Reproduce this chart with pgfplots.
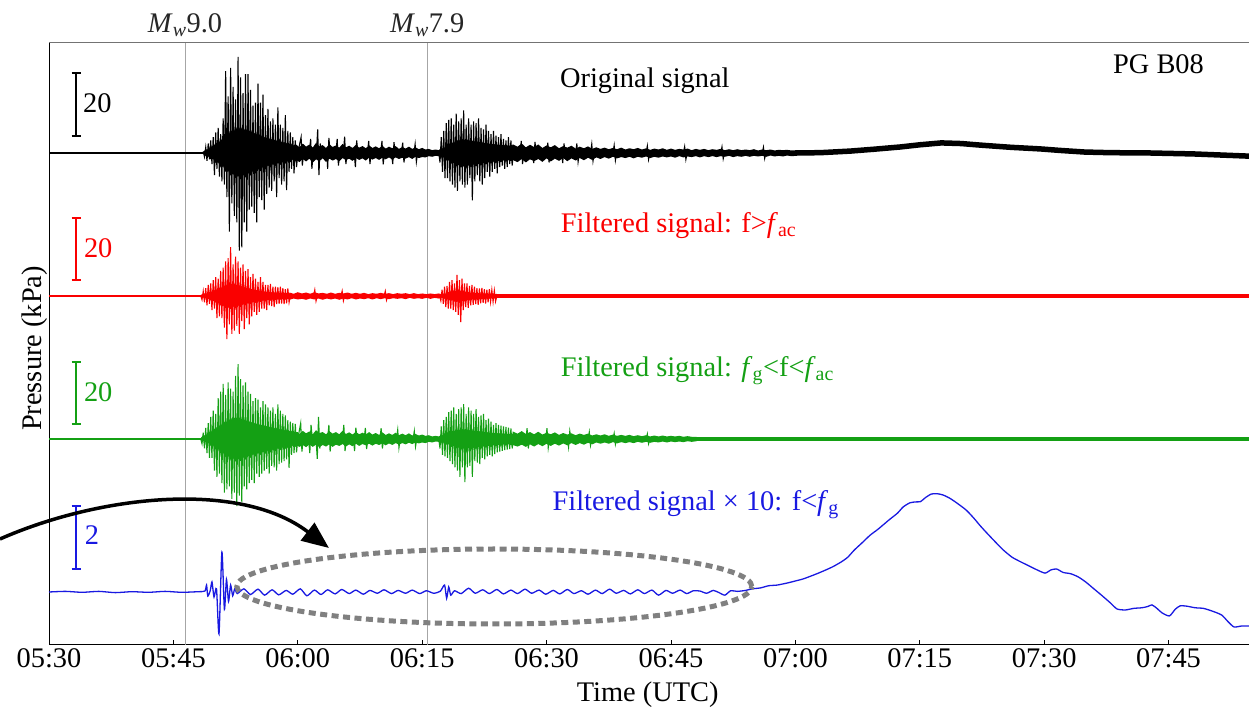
\documentclass[border=0pt]{standalone}
\usepackage{fontspec}
\setmainfont{Liberation Serif}
\usepackage{pgfplots}
\usepackage{pgfplotstable}
\pgfplotsset{compat=1.18}
\usetikzlibrary{arrows.meta}
\definecolor{cgreen}{RGB}{20,160,20}
\definecolor{cblue}{RGB}{25,25,225}
\definecolor{cred}{RGB}{250,0,0}
\newcommand{\fs}{\fontsize{28.5}{34}\selectfont}
\pgfplotsset{spk/.style={line width=1.1bp}}

% ---------- Original signal (kPa about the trace baseline; t = minutes after 05:30 UTC)
\pgfplotstableread[row sep=\\]{t p\\
18.6 0.5\\ 18.75 -1.2\\ 18.9 1.8\\ 19.05 -2.5\\ 19.2 3\\ 19.35 -2\\ 19.5 4\\ 19.65 -3.5\\ 19.8 5\\ 19.95 -7\\
20.1 6.5\\ 20.25 -5\\ 20.4 8\\ 20.55 -7.5\\ 20.7 6\\ 20.85 -9\\ 21.0 11\\ 21.15 -10\\ 21.3 26\\ 21.45 -14\\
21.6 18\\ 21.75 -25\\ 21.9 27\\ 22.05 -16\\ 22.2 21\\ 22.35 -20\\ 22.5 17\\ 22.65 -22\\ 22.8 30.5\\ 22.95 -31\\
23.1 24\\ 23.25 -30\\ 23.4 19\\ 23.55 -22\\ 23.7 25\\ 23.85 -25\\ 24.0 25\\ 24.15 -18\\ 24.3 20\\ 24.45 -17\\
24.6 15\\ 24.75 -19\\ 24.9 16\\ 25.05 -22\\ 25.2 22\\ 25.35 -14\\ 25.5 16\\ 25.65 -15\\ 25.8 18.5\\ 25.95 -18\\
26.1 12\\ 26.25 -13\\ 26.4 14\\ 26.55 -11\\ 26.7 10\\ 26.85 -12\\ 27.0 11\\ 27.15 -9\\ 27.3 9\\ 27.45 -14\\
27.6 14.5\\ 27.75 -8\\ 27.9 9\\ 28.05 -10\\ 28.2 8\\ 28.35 -9\\ 28.5 12\\ 28.65 -11.8\\ 28.8 7\\ 28.95 -6\\
29.1 6.5\\ 29.25 -5\\ 29.4 5\\ 29.55 -6.5\\ 29.7 4\\ 29.85 -4.5\\ 30.0 0\\
}\blackA
\pgfplotstableread[row sep=\\]{t p\\
18.6 0.3\\ 18.9 1.2\\ 19.2 1.0\\ 19.5 2.2\\ 19.8 1.8\\ 20.1 3.4\\ 20.4 2.8\\ 20.7 4.5\\ 21.0 3.8\\ 21.3 6.5\\ 21.6 5.2\\ 21.9 7.5\\
22.2 6.2\\ 22.5 8.2\\ 22.8 7.0\\ 23.1 8.6\\ 23.4 6.8\\ 23.7 8.0\\ 24.0 6.5\\ 24.3 7.4\\ 24.6 5.8\\ 24.9 6.6\\ 25.2 5.2\\ 25.5 6.0\\
25.8 4.6\\ 26.1 5.3\\ 26.4 4.2\\ 26.7 4.8\\ 27.0 3.8\\ 27.3 4.4\\ 27.6 3.4\\ 27.9 4.0\\ 28.2 3.0\\ 28.5 3.6\\ 28.8 2.6\\ 29.1 3.1\\
29.4 2.3\\ 29.7 2.8\\ 30.0 2.2\\
30.0 -2.2\\ 29.7 -2.6\\ 29.4 -2.1\\ 29.1 -3.0\\ 28.8 -2.4\\ 28.5 -3.4\\ 28.2 -2.8\\ 27.9 -3.8\\ 27.6 -3.1\\ 27.3 -4.2\\ 27.0 -3.5\\
26.7 -4.6\\ 26.4 -3.9\\ 26.1 -5.1\\ 25.8 -4.4\\ 25.5 -5.8\\ 25.2 -5.0\\ 24.9 -6.5\\ 24.6 -5.6\\ 24.3 -7.2\\ 24.0 -6.3\\ 23.7 -7.8\\
23.4 -6.9\\ 23.1 -8.4\\ 22.8 -7.2\\ 22.5 -8.0\\ 22.2 -6.6\\ 21.9 -7.2\\ 21.6 -5.6\\ 21.3 -6.0\\ 21.0 -4.2\\ 20.7 -4.4\\ 20.4 -3.0\\
20.1 -3.2\\ 19.8 -1.9\\ 19.5 -2.0\\ 19.2 -1.1\\ 18.9 -1.0\\ 18.6 -0.3\\
}\blackcoreA
\pgfplotstableread[row sep=\\]{t p\\
29.8 2.6\\ 30.2 1.8\\ 30.6 3.0\\ 31.0 2.0\\ 31.4 2.7\\ 31.8 1.7\\ 32.2 3.2\\ 32.6 2.1\\ 33.0 2.5\\ 33.4 1.6\\ 33.8 2.8\\ 34.2 1.9\\
34.6 2.4\\ 35.0 1.7\\ 35.4 2.9\\ 35.8 1.8\\ 36.2 2.3\\ 36.6 1.6\\ 37.0 2.6\\ 37.4 1.7\\ 37.8 2.2\\ 38.2 1.5\\ 38.6 2.4\\ 39.0 1.6\\
39.4 2.1\\ 39.8 1.5\\ 40.2 2.3\\ 40.6 1.4\\ 41.0 2.0\\ 41.4 1.5\\ 41.8 2.2\\ 42.2 1.3\\ 42.6 1.9\\ 43.0 1.4\\ 43.4 2.0\\ 43.8 1.3\\
44.2 1.8\\ 44.6 1.2\\ 45.0 1.6\\ 45.4 1.1\\ 45.8 1.3\\ 46.2 0.9\\ 46.6 1.1\\ 47.0 0.9\\ 47.2 1.0\\
47.2 -0.9\\ 47.0 -1.0\\ 46.6 -0.9\\ 46.2 -1.2\\ 45.8 -1.0\\ 45.4 -1.4\\ 45.0 -1.3\\ 44.6 -1.6\\ 44.2 -1.2\\ 43.8 -1.9\\ 43.4 -1.3\\
43.0 -1.8\\ 42.6 -1.5\\ 42.2 -1.9\\ 41.8 -1.4\\ 41.4 -2.1\\ 41.0 -1.4\\ 40.6 -2.0\\ 40.2 -1.5\\ 39.8 -2.2\\ 39.4 -1.6\\ 39.0 -2.1\\
38.6 -1.5\\ 38.2 -2.4\\ 37.8 -1.7\\ 37.4 -2.2\\ 37.0 -1.6\\ 36.6 -2.5\\ 36.2 -1.8\\ 35.8 -2.3\\ 35.4 -1.6\\ 35.0 -2.7\\ 34.6 -1.9\\
34.2 -2.4\\ 33.8 -1.8\\ 33.4 -2.8\\ 33.0 -1.7\\ 32.6 -2.6\\ 32.2 -2.0\\ 31.8 -3.1\\ 31.4 -1.8\\ 31.0 -2.7\\ 30.6 -1.9\\ 30.2 -2.9\\ 29.8 -2.2\\
}\blackmidA
\pgfplotstableread[row sep=\\]{t p\\
30.0 0\\ 30.4 5\\ 30.55 -4\\ 30.7 0\\ 31.4 0\\ 31.55 4.5\\ 31.7 -5\\ 31.85 0\\ 32.25 0\\ 32.4 7.5\\ 32.55 -7\\ 32.7 3\\ 32.85 0\\
33.5 0\\ 33.6 -5\\ 33.75 4.8\\ 33.9 0\\ 34.6 0\\ 34.75 4.5\\ 34.9 -4\\ 35.05 0\\ 35.5 0\\ 35.65 5.2\\ 35.8 -3.5\\ 35.95 0\\
36.8 0\\ 36.95 -4.5\\ 37.1 4\\ 37.25 0\\ 38.4 0\\ 38.55 3.8\\ 38.7 -3.5\\ 38.85 0\\ 40.0 0\\ 40.15 3.8\\ 40.3 -3.6\\ 40.45 0\\
41.3 0\\ 41.45 -3.5\\ 41.6 3.4\\ 41.75 0\\ 42.5 0\\ 42.65 3.3\\ 42.8 -3\\ 42.95 0\\ 44.0 0\\ 44.15 2.8\\ 44.3 -2.8\\ 44.45 0\\ 47.0 0\\
}\blackSa
\pgfplotstableread[row sep=\\]{t p\\
47.0 0\\ 47.15 -3\\ 47.3 5\\ 47.45 -6\\ 47.6 7\\ 47.75 -8\\ 47.9 9.5\\ 48.05 -8\\ 48.2 10.5\\ 48.35 -9\\ 48.5 11\\
48.65 -10\\ 48.8 9\\ 48.95 -11\\ 49.1 12.5\\ 49.25 -12\\ 49.4 10\\ 49.55 -9\\ 49.7 11\\ 49.85 -10\\ 50.0 13.5\\
50.15 -11\\ 50.3 9\\ 50.45 -10\\ 50.6 11\\ 50.75 -8\\ 50.9 9\\ 51.05 -15\\ 51.2 10\\ 51.35 -9\\ 51.5 9.5\\
51.65 -7\\ 51.8 11\\ 51.95 -9\\ 52.1 8\\ 52.25 -10\\ 52.4 7.5\\ 52.55 -8\\ 52.7 9\\ 52.85 -6\\ 53.0 7\\
53.15 -7.5\\ 53.3 6\\ 53.45 -6\\ 53.6 7\\ 53.75 -5\\ 53.9 5.5\\ 54.05 -6.5\\ 54.2 5\\ 54.35 -4.5\\ 54.5 6\\
54.65 -4\\ 54.8 4.5\\ 54.95 -5\\ 55.1 4\\ 55.25 -4.5\\ 55.4 5\\ 55.55 -3.5\\ 55.7 4\\ 55.85 -4\\ 56.0 0\\
}\blackB
\pgfplotstableread[row sep=\\]{t p\\
47.0 0.9\\ 47.3 1.6\\ 47.6 1.4\\ 47.9 2.6\\ 48.2 2.2\\ 48.5 3.6\\ 48.8 3.0\\ 49.1 4.4\\ 49.4 3.7\\ 49.7 4.8\\ 50.0 4.0\\
50.3 4.6\\ 50.6 3.8\\ 50.9 4.3\\ 51.2 3.5\\ 51.5 4.1\\ 51.8 3.3\\ 52.1 3.8\\ 52.4 3.0\\ 52.7 3.5\\ 53.0 2.8\\ 53.3 3.2\\
53.6 2.6\\ 53.9 3.0\\ 54.2 2.4\\ 54.5 2.9\\ 54.8 2.3\\ 55.1 2.7\\ 55.4 2.2\\ 55.7 2.6\\ 56.0 2.4\\
56.0 -2.2\\ 55.7 -2.6\\ 55.4 -2.1\\ 55.1 -2.8\\ 54.8 -2.3\\ 54.5 -3.0\\ 54.2 -2.5\\ 53.9 -3.2\\ 53.6 -2.7\\ 53.3 -3.4\\ 53.0 -2.9\\
52.7 -3.7\\ 52.4 -3.1\\ 52.1 -4.0\\ 51.8 -3.4\\ 51.5 -4.3\\ 51.2 -3.6\\ 50.9 -4.6\\ 50.6 -3.9\\ 50.3 -4.8\\ 50.0 -4.1\\ 49.7 -4.6\\
49.4 -3.8\\ 49.1 -4.2\\ 48.8 -3.1\\ 48.5 -3.4\\ 48.2 -2.2\\ 47.9 -2.4\\ 47.6 -1.4\\ 47.3 -1.5\\ 47.0 -0.9\\
}\blackcoreB
\pgfplotstableread[row sep=\\]{t p\\
55.9 2.8\\ 56.5 2.0\\ 57.0 3.0\\ 57.5 1.8\\ 58.0 2.6\\ 58.5 1.9\\ 59.0 2.7\\ 59.5 1.6\\ 60.0 2.4\\ 60.5 1.8\\ 61.0 2.5\\ 61.5 1.5\\
62.0 2.2\\ 62.5 1.7\\ 63.0 2.3\\ 63.5 1.4\\ 64.0 2.0\\ 64.5 1.5\\ 65.0 2.1\\ 65.5 1.3\\ 66.0 1.8\\ 66.5 1.3\\ 67.0 1.7\\ 67.5 1.2\\
68.0 1.6\\ 68.5 1.2\\ 69.0 1.7\\ 69.5 1.1\\ 70.0 1.5\\ 70.5 1.2\\ 71.0 1.6\\ 71.5 1.1\\ 72.0 1.5\\ 72.5 1.0\\ 73.0 1.4\\ 73.5 1.1\\
74.0 1.5\\ 74.5 1.0\\ 75.0 1.4\\ 75.5 1.0\\ 76.0 1.3\\ 76.5 1.1\\ 77.0 1.4\\ 77.5 0.9\\ 78.0 1.3\\ 78.5 1.0\\ 79.0 1.3\\ 79.5 0.9\\
80.0 1.2\\ 80.5 1.0\\ 81.0 1.3\\ 81.5 0.9\\ 82.0 1.2\\ 82.5 0.9\\ 83.0 1.2\\ 83.5 0.9\\ 84.0 1.1\\ 84.5 0.9\\ 85.0 1.2\\ 85.5 0.8\\
86.0 1.1\\ 86.5 0.9\\ 87.0 1.1\\ 87.5 0.8\\ 88.0 1.0\\ 88.5 0.9\\ 89.0 1.0\\ 89.5 0.8\\ 90.2 0.9\\
90.2 -0.9\\ 89.5 -1.0\\ 89.0 -0.8\\ 88.5 -1.1\\ 88.0 -0.9\\ 87.5 -1.1\\ 87.0 -0.8\\ 86.5 -1.2\\ 86.0 -0.9\\ 85.5 -1.1\\ 85.0 -0.9\\
84.5 -1.2\\ 84.0 -0.9\\ 83.5 -1.2\\ 83.0 -1.0\\ 82.5 -1.3\\ 82.0 -0.9\\ 81.5 -1.2\\ 81.0 -1.0\\ 80.5 -1.3\\ 80.0 -1.0\\ 79.5 -1.3\\
79.0 -1.0\\ 78.5 -1.4\\ 78.0 -1.0\\ 77.5 -1.3\\ 77.0 -1.1\\ 76.5 -1.4\\ 76.0 -1.0\\ 75.5 -1.5\\ 75.0 -1.1\\ 74.5 -1.4\\ 74.0 -1.1\\
73.5 -1.5\\ 73.0 -1.2\\ 72.5 -1.6\\ 72.0 -1.1\\ 71.5 -1.5\\ 71.0 -1.2\\ 70.5 -1.7\\ 70.0 -1.2\\ 69.5 -1.6\\ 69.0 -1.3\\ 68.5 -1.7\\
68.0 -1.2\\ 67.5 -1.8\\ 67.0 -1.3\\ 66.5 -1.9\\ 66.0 -1.4\\ 65.5 -2.2\\ 65.0 -1.5\\ 64.5 -2.3\\ 64.0 -1.6\\ 63.5 -2.4\\ 63.0 -1.7\\
62.5 -2.6\\ 62.0 -1.6\\ 61.5 -2.5\\ 61.0 -1.8\\ 60.5 -2.7\\ 60.0 -1.7\\ 59.5 -2.8\\ 59.0 -1.9\\ 58.5 -2.6\\ 58.0 -2.0\\ 57.5 -3.0\\
57.0 -1.9\\ 56.5 -2.9\\ 55.9 -2.2\\
}\blackmidB
\pgfplotstableread[row sep=\\]{t p\\
56.0 0\\ 56.8 0\\ 56.95 3.8\\ 57.1 -3.5\\ 57.25 0\\ 58.3 0\\ 58.45 -3.2\\ 58.6 3.5\\ 58.75 0\\ 60.0 0\\ 60.15 3.3\\ 60.3 -3\\ 60.45 0\\
61.8 0\\ 61.95 -3.2\\ 62.1 3\\ 62.25 0\\ 63.5 0\\ 63.65 3\\ 63.8 -2.8\\ 63.95 0\\ 65.3 0\\ 65.45 2.8\\ 65.6 -2.5\\ 65.75 0\\
68.0 0\\ 68.15 2.4\\ 68.3 -2.3\\ 68.45 0\\ 72.0 0\\ 72.15 2.2\\ 72.3 -2\\ 72.45 0\\ 76.5 0\\ 76.65 2\\ 76.8 -2\\ 76.95 0\\
81.0 0\\ 81.15 1.9\\ 81.3 -1.8\\ 81.45 0\\ 86.0 0\\ 86.15 1.8\\ 86.3 -1.7\\ 86.45 0\\ 90.0 0\\
}\blackSb
\pgfplotstableread[row sep=\\]{t p\\
90.0 0\\ 93.0 0.1\\ 96.6 0.6\\ 99.5 1.2\\ 102.6 1.9\\ 105.0 2.6\\ 107.6 3.2\\ 110.0 3.0\\ 112.3 2.5\\
116.0 1.8\\ 119.5 1.3\\ 122.0 0.8\\ 124.9 0.3\\ 128.0 0.1\\ 132.8 0\\ 138.0 -0.3\\ 144.7 -1.0\\
}\blacktail

% ---------- Filtered f > f_ac
\pgfplotstableread[row sep=\\]{t p\\
18.3 0\\ 18.45 -1.2\\ 18.6 1.5\\ 18.75 -2\\ 18.9 2.5\\ 19.05 -3\\ 19.2 3.5\\ 19.35 -2.5\\ 19.5 4\\ 19.65 -4.5\\
19.8 5\\ 19.95 -4\\ 20.1 6\\ 20.25 -7\\ 20.4 5.5\\ 20.55 -6.5\\ 20.7 8\\ 20.85 -7\\ 21.0 9\\ 21.15 -10\\
21.3 11\\ 21.45 -13.7\\ 21.6 12\\ 21.75 -9\\ 21.9 15.5\\ 22.05 -12\\ 22.2 10\\ 22.35 -11\\ 22.5 12.5\\ 22.65 -9.5\\
22.8 11\\ 22.95 -12\\ 23.1 9\\ 23.25 -8\\ 23.4 10\\ 23.55 -10.5\\ 23.7 8\\ 23.85 -7\\ 24.0 8.5\\ 24.15 -9\\
24.3 6\\ 24.45 -6.5\\ 24.6 7\\ 24.75 -5\\ 24.9 5.5\\ 25.05 -6\\ 25.2 4.5\\ 25.35 -5\\ 25.5 6\\ 25.65 -4\\
25.8 4.5\\ 25.95 -4\\ 26.1 3.5\\ 26.25 -4.5\\ 26.4 3.5\\ 26.55 -3\\ 26.7 3.8\\ 26.85 -3.2\\ 27.0 3\\ 27.15 -3.5\\
27.3 3\\ 27.45 -2.6\\ 27.6 2.8\\ 27.75 -2.5\\ 27.9 3\\ 28.05 -2.4\\ 28.2 2.5\\ 28.35 -2.6\\ 28.5 2.2\\ 28.65 -2.3\\
28.8 2.4\\ 28.95 -2\\ 29.1 0\\
}\redA
\pgfplotstableread[row sep=\\]{t p\\
18.3 0.3\\ 18.6 0.8\\ 18.9 0.6\\ 19.2 1.3\\ 19.5 1.1\\ 19.8 2.0\\ 20.1 1.7\\ 20.4 2.8\\ 20.7 2.3\\ 21.0 3.6\\ 21.3 3.0\\ 21.6 4.4\\
21.9 3.6\\ 22.2 4.2\\ 22.5 3.4\\ 22.8 3.8\\ 23.1 3.0\\ 23.4 3.3\\ 23.7 2.5\\ 24.0 2.8\\ 24.3 2.1\\ 24.6 2.4\\ 24.9 1.8\\ 25.2 2.0\\
25.5 1.5\\ 25.8 1.7\\ 26.1 1.3\\ 26.4 1.5\\ 26.7 1.1\\ 27.0 1.3\\ 27.3 1.0\\ 27.6 1.2\\ 27.9 0.9\\ 28.2 1.1\\ 28.5 0.8\\ 28.8 1.0\\ 29.1 0.8\\
29.1 -0.8\\ 28.8 -0.9\\ 28.5 -1.1\\ 28.2 -0.9\\ 27.9 -1.2\\ 27.6 -1.0\\ 27.3 -1.3\\ 27.0 -1.1\\ 26.7 -1.5\\ 26.4 -1.2\\ 26.1 -1.7\\
25.8 -1.4\\ 25.5 -1.9\\ 25.2 -1.6\\ 24.9 -2.2\\ 24.6 -1.9\\ 24.3 -2.6\\ 24.0 -2.2\\ 23.7 -3.0\\ 23.4 -2.6\\ 23.1 -3.5\\ 22.8 -3.0\\
22.5 -3.9\\ 22.2 -3.3\\ 21.9 -4.2\\ 21.6 -3.6\\ 21.3 -3.9\\ 21.0 -3.0\\ 20.7 -3.0\\ 20.4 -2.2\\ 20.1 -2.1\\ 19.8 -1.5\\ 19.5 -1.4\\
19.2 -0.9\\ 18.9 -0.7\\ 18.6 -0.5\\ 18.3 -0.3\\
}\redcoreA
\pgfplotstableread[row sep=\\]{t p\\
29.0 1.1\\ 29.5 0.7\\ 30.0 1.2\\ 30.5 0.8\\ 31.0 1.1\\ 31.5 0.7\\ 32.0 1.2\\ 32.5 0.8\\ 33.0 1.0\\ 33.5 0.7\\ 34.0 1.1\\ 34.5 0.7\\
35.0 1.0\\ 35.5 0.8\\ 36.0 1.1\\ 36.5 0.7\\ 37.0 1.0\\ 37.5 0.7\\ 38.0 1.0\\ 38.5 0.6\\ 39.0 0.9\\ 39.5 0.7\\ 40.0 1.0\\ 40.5 0.7\\
41.0 0.9\\ 41.5 0.6\\ 42.0 0.9\\ 42.5 0.7\\ 43.0 0.9\\ 43.5 0.6\\ 44.0 0.9\\ 44.5 0.6\\ 45.0 0.8\\ 45.5 0.6\\ 46.0 0.8\\ 46.5 0.6\\
47.0 0.8\\ 47.3 0.6\\
47.3 -0.6\\ 47.0 -0.8\\ 46.5 -0.6\\ 46.0 -0.9\\ 45.5 -0.6\\ 45.0 -0.9\\ 44.5 -0.7\\ 44.0 -0.9\\ 43.5 -0.6\\ 43.0 -1.0\\ 42.5 -0.7\\
42.0 -0.9\\ 41.5 -0.7\\ 41.0 -1.0\\ 40.5 -0.7\\ 40.0 -1.0\\ 39.5 -0.7\\ 39.0 -1.1\\ 38.5 -0.7\\ 38.0 -1.0\\ 37.5 -0.8\\ 37.0 -1.1\\
36.5 -0.7\\ 36.0 -1.1\\ 35.5 -0.8\\ 35.0 -1.2\\ 34.5 -0.8\\ 34.0 -1.1\\ 33.5 -0.8\\ 33.0 -1.2\\ 32.5 -0.8\\ 32.0 -1.1\\ 31.5 -0.8\\
31.0 -1.2\\ 30.5 -0.9\\ 30.0 -1.1\\ 29.5 -0.8\\ 29.0 -1.2\\
}\redmid
\pgfplotstableread[row sep=\\]{t p\\
29.1 0\\ 31.9 0\\ 32.05 1.9\\ 32.2 -1.6\\ 32.35 0\\ 35.2 0\\ 35.35 1.6\\ 35.5 -1.5\\ 35.65 0\\ 40.4 0\\ 40.55 1.5\\ 40.7 -1.3\\ 40.85 0\\ 47.1 0\\
}\redSa
\pgfplotstableread[row sep=\\]{t p\\
47.1 0\\ 47.25 -1.5\\ 47.4 2\\ 47.55 -2.5\\ 47.7 3\\ 47.85 -3.5\\ 48.0 3.2\\ 48.15 -4\\ 48.3 4.5\\ 48.45 -4\\ 48.6 5\\
48.75 -4.5\\ 48.9 4\\ 49.05 -5\\ 49.2 6.7\\ 49.35 -6\\ 49.5 5\\ 49.65 -8.3\\ 49.8 5.5\\ 49.95 -4.5\\ 50.1 4\\
50.25 -3.5\\ 50.4 4\\ 50.55 -3.8\\ 50.7 3.2\\ 50.85 -3\\ 51.0 3.5\\ 51.15 -2.8\\ 51.3 3\\ 51.45 -2.6\\ 51.6 2.5\\
51.75 -2.8\\ 51.9 2.4\\ 52.05 -2.3\\ 52.2 2.6\\ 52.35 -2.2\\ 52.5 2.2\\ 52.65 -2.4\\ 52.8 2\\ 52.95 -2\\ 53.1 2.2\\
53.25 -1.8\\ 53.4 1.9\\ 53.55 -1.8\\ 53.7 1.7\\ 53.85 -1.7\\ 54.0 0\\
}\redB
\pgfplotstableread[row sep=\\]{t p\\
47.2 0.4\\ 47.5 0.8\\ 47.8 0.7\\ 48.1 1.3\\ 48.4 1.1\\ 48.7 1.7\\ 49.0 1.5\\ 49.3 2.1\\ 49.6 1.7\\ 49.9 1.8\\ 50.2 1.3\\ 50.5 1.4\\
50.8 1.0\\ 51.1 1.2\\ 51.4 0.9\\ 51.7 1.0\\ 52.0 0.8\\ 52.3 0.9\\ 52.6 0.7\\ 52.9 0.8\\ 53.2 0.7\\ 53.5 0.8\\ 53.8 0.6\\ 54.0 0.7\\
54.0 -0.7\\ 53.8 -0.8\\ 53.5 -0.6\\ 53.2 -0.9\\ 52.9 -0.7\\ 52.6 -1.0\\ 52.3 -0.8\\ 52.0 -1.1\\ 51.7 -0.9\\ 51.4 -1.3\\ 51.1 -1.0\\
50.8 -1.5\\ 50.5 -1.2\\ 50.2 -1.8\\ 49.9 -1.5\\ 49.6 -2.2\\ 49.3 -1.8\\ 49.0 -1.9\\ 48.7 -1.4\\ 48.4 -1.5\\ 48.1 -1.0\\ 47.8 -0.9\\
47.5 -0.6\\ 47.2 -0.4\\
}\redcoreB

% ---------- Filtered f_g < f < f_ac
\pgfplotstableread[row sep=\\]{t p\\
18.3 0\\ 18.45 -1.5\\ 18.6 2\\ 18.75 -3\\ 18.9 3.5\\ 19.05 -4.5\\ 19.2 5\\ 19.35 -6\\ 19.5 7\\ 19.65 -6\\
19.8 9\\ 19.95 -10\\ 20.1 8\\ 20.25 -12\\ 20.4 13\\ 20.55 -11\\ 20.7 15\\ 20.85 -14\\ 21.0 17.5\\ 21.15 -17\\
21.3 14\\ 21.45 -16\\ 21.6 18\\ 21.75 -15\\ 21.9 16\\ 22.05 -19\\ 22.2 15\\ 22.35 -17\\ 22.5 20\\ 22.65 -21.3\\
22.8 23.8\\ 22.95 -18\\ 23.1 19\\ 23.25 -20\\ 23.4 17\\ 23.55 -15\\ 23.7 18\\ 23.85 -16\\ 24.0 15\\ 24.15 -14\\
24.3 14.3\\ 24.45 -13\\ 24.6 12\\ 24.75 -14\\ 24.9 13\\ 25.05 -11\\ 25.2 12.5\\ 25.35 -12\\ 25.5 10\\ 25.65 -11\\
25.8 12\\ 25.95 -10\\ 26.1 11\\ 26.25 -9.5\\ 26.4 10\\ 26.55 -11\\ 26.7 9\\ 26.85 -8.5\\ 27.0 10\\ 27.15 -9\\
27.3 8\\ 27.45 -10\\ 27.6 11\\ 27.75 -8\\ 27.9 9\\ 28.05 -7.5\\ 28.2 8\\ 28.35 -7\\ 28.5 7.5\\ 28.65 -6.5\\
28.8 6\\ 28.95 -9.2\\ 29.1 5.5\\ 29.25 -5\\ 29.4 5\\ 29.55 -4.5\\ 29.7 4.8\\ 29.85 -4.2\\ 30.0 0\\
}\greenA
\pgfplotstableread[row sep=\\]{t p\\
18.3 0.3\\ 18.6 1.2\\ 18.9 1.0\\ 19.2 2.4\\ 19.5 2.0\\ 19.8 3.5\\ 20.1 3.0\\ 20.4 4.6\\ 20.7 4.0\\ 21.0 5.8\\ 21.3 5.0\\ 21.6 6.6\\
21.9 5.8\\ 22.2 7.2\\ 22.5 6.3\\ 22.8 7.4\\ 23.1 6.2\\ 23.4 6.8\\ 23.7 5.6\\ 24.0 6.2\\ 24.3 5.1\\ 24.6 5.7\\ 24.9 4.6\\ 25.2 5.2\\
25.5 4.2\\ 25.8 4.8\\ 26.1 3.8\\ 26.4 4.4\\ 26.7 3.5\\ 27.0 4.0\\ 27.3 3.2\\ 27.6 3.6\\ 27.9 2.9\\ 28.2 3.3\\ 28.5 2.6\\ 28.8 3.0\\
29.1 2.3\\ 29.4 2.7\\ 29.7 2.1\\ 30.0 2.2\\
30.0 -2.0\\ 29.7 -2.5\\ 29.4 -2.1\\ 29.1 -2.8\\ 28.8 -2.3\\ 28.5 -3.1\\ 28.2 -2.6\\ 27.9 -3.5\\ 27.6 -2.9\\ 27.3 -3.9\\ 27.0 -3.3\\
26.7 -4.3\\ 26.4 -3.6\\ 26.1 -4.7\\ 25.8 -4.0\\ 25.5 -5.1\\ 25.2 -4.4\\ 24.9 -5.6\\ 24.6 -4.8\\ 24.3 -6.0\\ 24.0 -5.3\\ 23.7 -6.6\\
23.4 -5.8\\ 23.1 -7.0\\ 22.8 -6.3\\ 22.5 -7.2\\ 22.2 -6.1\\ 21.9 -6.6\\ 21.6 -5.4\\ 21.3 -5.8\\ 21.0 -4.4\\ 20.7 -4.6\\ 20.4 -3.2\\
20.1 -3.4\\ 19.8 -2.1\\ 19.5 -2.2\\ 19.2 -1.2\\ 18.9 -1.1\\ 18.6 -0.6\\ 18.3 -0.3\\
}\greencoreA
\pgfplotstableread[row sep=\\]{t p\\
29.8 2.3\\ 30.2 1.6\\ 30.6 2.6\\ 31.0 1.8\\ 31.4 2.4\\ 31.8 1.5\\ 32.2 2.8\\ 32.6 1.9\\ 33.0 2.2\\ 33.4 1.5\\ 33.8 2.5\\ 34.2 1.7\\
34.6 2.2\\ 35.0 1.5\\ 35.4 2.6\\ 35.8 1.6\\ 36.2 2.1\\ 36.6 1.4\\ 37.0 2.3\\ 37.4 1.5\\ 37.8 2.0\\ 38.2 1.4\\ 38.6 2.2\\ 39.0 1.4\\
39.4 1.9\\ 39.8 1.3\\ 40.2 2.1\\ 40.6 1.3\\ 41.0 1.8\\ 41.4 1.3\\ 41.8 2.0\\ 42.2 1.2\\ 42.6 1.7\\ 43.0 1.2\\ 43.4 1.8\\ 43.8 1.1\\
44.2 1.6\\ 44.6 1.1\\ 45.0 1.4\\ 45.4 1.0\\ 45.8 1.2\\ 46.2 0.8\\ 46.6 1.0\\ 47.0 0.8\\ 47.2 0.9\\
47.2 -0.8\\ 47.0 -0.9\\ 46.6 -0.8\\ 46.2 -1.1\\ 45.8 -0.9\\ 45.4 -1.3\\ 45.0 -1.1\\ 44.6 -1.4\\ 44.2 -1.1\\ 43.8 -1.6\\ 43.4 -1.2\\
43.0 -1.7\\ 42.6 -1.3\\ 42.2 -1.8\\ 41.8 -1.3\\ 41.4 -1.9\\ 41.0 -1.4\\ 40.6 -2.0\\ 40.2 -1.4\\ 39.8 -1.9\\ 39.4 -1.5\\ 39.0 -2.1\\
38.6 -1.5\\ 38.2 -2.0\\ 37.8 -1.6\\ 37.4 -2.2\\ 37.0 -1.5\\ 36.6 -2.3\\ 36.2 -1.7\\ 35.8 -2.4\\ 35.4 -1.6\\ 35.0 -2.2\\ 34.6 -1.8\\
34.2 -2.5\\ 33.8 -1.7\\ 33.4 -2.4\\ 33.0 -1.9\\ 32.6 -2.6\\ 32.2 -1.8\\ 31.8 -2.5\\ 31.4 -1.7\\ 31.0 -2.6\\ 30.6 -1.9\\ 30.2 -2.5\\ 29.8 -2.0\\
}\greenmidA
\pgfplotstableread[row sep=\\]{t p\\
30.0 0\\ 30.35 5\\ 30.5 -4\\ 30.65 0\\ 31.3 0\\ 31.45 -4.5\\ 31.6 4.5\\ 31.75 0\\ 32.2 0\\ 32.35 -6.3\\ 32.5 7\\ 32.65 -3\\ 32.8 0\\
33.6 0\\ 33.75 4.5\\ 33.9 -4\\ 34.05 0\\ 35.4 0\\ 35.55 4.5\\ 35.7 -3.8\\ 35.85 0\\ 36.7 0\\ 36.85 -3.8\\ 37.0 3.6\\ 37.15 0\\
38.0 0\\ 38.15 3.5\\ 38.3 -3.2\\ 38.45 0\\ 39.9 0\\ 40.05 3.4\\ 40.2 -3\\ 40.35 0\\ 41.9 0\\ 42.05 2.9\\ 42.2 -2.8\\ 42.35 0\\
43.9 0\\ 44.05 2.5\\ 44.2 -2.4\\ 44.35 0\\ 47.0 0\\
}\greenSa
\pgfplotstableread[row sep=\\]{t p\\
47.0 0\\ 47.15 -3\\ 47.3 4\\ 47.45 -5\\ 47.6 6\\ 47.75 -5.5\\ 47.9 7\\ 48.05 -6\\ 48.2 8.5\\ 48.35 -7\\ 48.5 9\\
48.65 -8\\ 48.8 10\\ 48.95 -9\\ 49.1 8\\ 49.25 -10\\ 49.4 9.5\\ 49.55 -12\\ 49.7 10\\ 49.85 -9\\ 50.0 11.1\\
50.15 -13.7\\ 50.3 8\\ 50.45 -9\\ 50.6 10\\ 50.75 -8.5\\ 50.9 9\\ 51.05 -12\\ 51.2 8\\ 51.35 -7\\ 51.5 9.5\\
51.65 -7.5\\ 51.8 7\\ 51.95 -8\\ 52.1 7.5\\ 52.25 -6\\ 52.4 8\\ 52.55 -6.5\\ 52.7 6\\ 52.85 -5.5\\ 53.0 6.5\\
53.15 -5\\ 53.3 5.5\\ 53.45 -5.5\\ 53.6 4.5\\ 53.75 -4.8\\ 53.9 5\\ 54.05 -4.2\\ 54.2 4.5\\ 54.35 -4\\ 54.5 4.2\\
54.65 -3.8\\ 54.8 4\\ 54.95 -3.5\\ 55.1 3.8\\ 55.25 -3.4\\ 55.4 3.6\\ 55.55 -3.2\\ 55.7 3.4\\ 55.85 -3\\ 56.0 0\\
}\greenB
\pgfplotstableread[row sep=\\]{t p\\
47.0 0.8\\ 47.3 1.3\\ 47.6 1.1\\ 47.9 2.0\\ 48.2 1.7\\ 48.5 2.8\\ 48.8 2.3\\ 49.1 3.2\\ 49.4 2.7\\ 49.7 3.4\\ 50.0 2.9\\
50.3 3.3\\ 50.6 2.7\\ 50.9 3.0\\ 51.2 2.5\\ 51.5 2.8\\ 51.8 2.3\\ 52.1 2.6\\ 52.4 2.1\\ 52.7 2.4\\ 53.0 1.9\\ 53.3 2.2\\
53.6 1.8\\ 53.9 2.1\\ 54.2 1.7\\ 54.5 2.0\\ 54.8 1.6\\ 55.1 1.9\\ 55.4 1.5\\ 55.7 1.8\\ 56.0 1.6\\
56.0 -1.7\\ 55.7 -2.0\\ 55.4 -1.6\\ 55.1 -2.1\\ 54.8 -1.7\\ 54.5 -2.2\\ 54.2 -1.8\\ 53.9 -2.4\\ 53.6 -1.9\\ 53.3 -2.6\\ 53.0 -2.1\\
52.7 -2.8\\ 52.4 -2.3\\ 52.1 -3.0\\ 51.8 -2.5\\ 51.5 -3.2\\ 51.2 -2.7\\ 50.9 -3.4\\ 50.6 -2.8\\ 50.3 -3.6\\ 50.0 -3.0\\ 49.7 -3.3\\
49.4 -2.7\\ 49.1 -3.0\\ 48.8 -2.2\\ 48.5 -2.5\\ 48.2 -1.6\\ 47.9 -1.8\\ 47.6 -1.1\\ 47.3 -1.2\\ 47.0 -0.8\\
}\greencoreB
\pgfplotstableread[row sep=\\]{t p\\
55.9 2.4\\ 56.5 1.7\\ 57.0 2.5\\ 57.5 1.6\\ 58.0 2.2\\ 58.5 1.5\\ 59.0 2.3\\ 59.5 1.4\\ 60.0 2.0\\ 60.5 1.5\\ 61.0 2.1\\ 61.5 1.3\\
62.0 1.9\\ 62.5 1.4\\ 63.0 1.8\\ 63.5 1.2\\ 64.0 1.7\\ 64.5 1.3\\ 65.0 1.7\\ 65.5 1.1\\ 66.0 1.5\\ 66.5 1.1\\ 67.0 1.5\\ 67.5 1.0\\
68.0 1.4\\ 68.5 1.0\\ 69.0 1.3\\ 69.5 1.0\\ 70.0 1.3\\ 70.5 0.9\\ 71.0 1.2\\ 71.5 0.9\\ 72.0 1.2\\ 72.5 0.8\\ 73.0 1.1\\ 73.5 0.8\\
74.0 1.1\\ 74.5 0.8\\ 75.0 1.0\\ 75.5 0.8\\ 76.0 1.0\\ 76.5 0.7\\ 77.0 0.9\\ 77.5 0.7\\ 78.1 0.7\\
78.1 -0.7\\ 77.5 -0.9\\ 77.0 -0.7\\ 76.5 -1.0\\ 76.0 -0.8\\ 75.5 -1.0\\ 75.0 -0.8\\ 74.5 -1.1\\ 74.0 -0.8\\ 73.5 -1.1\\ 73.0 -0.9\\
72.5 -1.2\\ 72.0 -0.9\\ 71.5 -1.2\\ 71.0 -0.9\\ 70.5 -1.3\\ 70.0 -1.0\\ 69.5 -1.3\\ 69.0 -1.0\\ 68.5 -1.4\\ 68.0 -1.0\\ 67.5 -1.5\\
67.0 -1.1\\ 66.5 -1.5\\ 66.0 -1.1\\ 65.5 -1.7\\ 65.0 -1.2\\ 64.5 -1.8\\ 64.0 -1.3\\ 63.5 -1.9\\ 63.0 -1.3\\ 62.5 -2.0\\ 62.0 -1.4\\
61.5 -2.1\\ 61.0 -1.5\\ 60.5 -2.2\\ 60.0 -1.5\\ 59.5 -2.3\\ 59.0 -1.6\\ 58.5 -2.4\\ 58.0 -1.7\\ 57.5 -2.5\\ 57.0 -1.8\\ 56.5 -2.4\\ 55.9 -1.9\\
}\greenmidB
\pgfplotstableread[row sep=\\]{t p\\
56.0 0\\ 57.5 0\\ 57.65 3.4\\ 57.8 -3\\ 57.95 0\\ 59.9 0\\ 60.05 3.4\\ 60.2 -2.8\\ 60.35 0\\ 62.5 0\\ 62.65 -2.6\\ 62.8 2.5\\ 62.95 0\\
65.0 0\\ 65.15 2.2\\ 65.3 -2\\ 65.45 0\\ 68.0 0\\ 68.15 1.8\\ 68.3 -1.7\\ 68.45 0\\ 72.0 0\\ 72.15 1.6\\ 72.3 -1.5\\ 72.45 0\\ 78.0 0\\
}\greenSb

% ---------- Filtered x10, f < f_g (scale-bar units)
\pgfplotstableread[row sep=\\]{t p\\
0 0\\ 2 0.02\\ 4 -0.01\\ 6 0.02\\ 8 -0.02\\ 10 0.01\\ 12 -0.01\\ 14 0.02\\ 16 -0.01\\ 18 0.01\\
18.8 0.03\\ 19.0 0.22\\ 19.15 -0.13\\ 19.45 0.05\\ 19.65 0.32\\ 19.9 -0.16\\ 20.2 0.1\\ 20.5 -1.33\\ 20.85 1.27\\
21.15 -0.55\\ 21.4 0.4\\ 21.65 -0.3\\ 21.9 0.22\\ 22.15 -0.12\\ 22.4 0.1\\ 22.7 -0.05\\
23.5 0.1\\ 24.3 -0.08\\ 25.2 0.09\\ 26.0 -0.1\\ 26.9 0.07\\ 27.7 -0.09\\ 28.6 0.05\\ 29.4 -0.07\\ 30.3 0.1\\ 31.1 -0.12\\
32.0 0.06\\ 32.8 -0.08\\ 33.6 0.07\\ 34.5 -0.06\\ 35.3 0.08\\ 36.2 -0.05\\ 37.0 0.06\\ 37.9 -0.07\\ 38.7 0.05\\ 39.6 -0.04\\
40.4 0.07\\ 41.3 -0.05\\ 42.1 0.05\\ 43.0 -0.04\\ 43.8 0.06\\ 44.7 -0.05\\ 45.5 0.04\\ 46.4 -0.04\\ 47.2 0.03\\ 47.7 0.22\\
47.95 -0.2\\ 48.2 0.16\\ 48.45 -0.1\\ 48.9 0.04\\ 49.7 -0.05\\ 50.6 0.12\\ 51.4 -0.04\\ 52.3 0.07\\ 53.1 -0.05\\ 54.0 0.08\\
54.8 -0.06\\ 55.7 0.06\\ 56.5 -0.05\\ 57.4 0.09\\ 58.2 -0.04\\ 59.1 0.06\\ 59.9 -0.07\\ 60.8 0.05\\ 61.6 -0.06\\ 62.5 0.08\\
63.3 -0.05\\ 64.2 0.04\\ 65.0 -0.07\\ 65.9 0.06\\ 66.7 -0.05\\ 67.6 0.09\\ 68.4 -0.04\\ 69.3 0.05\\ 70.1 -0.06\\ 71.0 0.07\\
71.8 -0.05\\ 72.7 0.06\\ 73.5 -0.1\\ 74.4 0.05\\ 75.2 -0.04\\ 76.1 0.06\\ 76.9 -0.05\\ 77.7 0.04\\ 78.5 0.03\\ 79.3 -0.04\\
80.1 0.05\\ 80.8 -0.02\\ 81.5 -0.1\\ 82.2 0.04\\ 83.0 0.02\\ 84.0 0.05\\ 84.8 0.1\\ 85.8 0.13\\ 86.8 0.2\\ 87.8 0.22\\
89.1 0.29\\ 90.0 0.35\\ 91.0 0.42\\ 92.5 0.57\\ 93.5 0.68\\ 94.5 0.8\\ 95.5 0.95\\ 96.3 1.1\\ 97.1 1.33\\ 98.0 1.55\\
99.0 1.8\\ 100.0 2.0\\ 101.3 2.29\\ 102.3 2.5\\ 103.0 2.7\\ 103.8 2.83\\ 104.5 2.86\\ 105.1 2.87\\ 105.7 3.0\\ 106.4 3.11\\
107.1 3.12\\ 107.8 3.08\\ 108.6 2.98\\ 109.5 2.82\\ 110.6 2.6\\ 111.5 2.35\\ 112.3 2.1\\ 113.1 1.87\\ 114.0 1.62\\ 115.0 1.35\\
116.1 1.11\\ 117.0 0.98\\ 118.0 0.85\\ 119.0 0.72\\ 120.1 0.60\\ 120.8 0.7\\ 121.5 0.73\\ 122.3 0.62\\ 123.2 0.58\\ 124.1 0.48\\
125.0 0.32\\ 126.0 0.1\\ 127.0 -0.12\\ 128.0 -0.35\\ 128.8 -0.54\\ 129.8 -0.57\\ 130.8 -0.52\\ 131.8 -0.5\\ 132.5 -0.46\\ 133.0 -0.41\\
133.6 -0.52\\ 134.2 -0.66\\ 135.1 -0.76\\ 135.8 -0.55\\ 136.4 -0.44\\ 137.2 -0.45\\ 138.2 -0.5\\ 139.2 -0.52\\ 140.2 -0.6\\ 141.4 -0.73\\
142.2 -0.95\\ 142.9 -1.11\\ 143.8 -1.08\\ 144.7 -1.08\\
}\bluedata

\begin{document}
\begin{tikzpicture}
\useasboundingbox (0,0) rectangle (1249bp,719bp);
\begin{axis}[
  at={(49bp,74bp)}, anchor=south west,
  width=1200bp, height=602bp, scale only axis,
  xmin=0, xmax=144.7, ymin=0, ymax=602,
  axis x line*=bottom, axis y line*=left,
  axis line style={line width=1bp},
  ytick=\empty,
  xtick={0,15,30,45,60,75,90,105,120,135},
  xticklabels={05:30,05:45,06:00,06:15,06:30,06:45,07:00,07:15,07:30,07:45},
  tick align=inside, major tick length=5bp,
  tick style={black, line width=0.8bp},
  xticklabel style={font=\fs},
  clip=false,
]
% event lines and top frame
\draw[black!35, line width=1bp] (axis cs:16.5,0) -- (axis cs:16.5,602);
\draw[black!35, line width=1bp] (axis cs:45.7,0) -- (axis cs:45.7,602);
\draw[black!55, line width=1bp] (axis cs:0,602) -- (axis cs:144.7,602);

% ---- original signal (baseline 492)
\addplot[black, line width=2.8bp] coordinates {(0,492) (18.6,492)};
\addplot[black, fill=black, draw=none] table[x=t, y expr=\thisrow{p}*3.15+492] {\blackcoreA};
\addplot[black, spk] table[x=t, y expr=\thisrow{p}*3.15+492] {\blackA};
\addplot[black, fill=black, draw=none] table[x=t, y expr=\thisrow{p}*3.15+492] {\blackmidA};
\addplot[black, spk] table[x=t, y expr=\thisrow{p}*3.15+492] {\blackSa};
\addplot[black, fill=black, draw=none] table[x=t, y expr=\thisrow{p}*3.15+492] {\blackcoreB};
\addplot[black, spk] table[x=t, y expr=\thisrow{p}*3.15+492] {\blackB};
\addplot[black, fill=black, draw=none] table[x=t, y expr=\thisrow{p}*3.15+492] {\blackmidB};
\addplot[black, spk] table[x=t, y expr=\thisrow{p}*3.15+492] {\blackSb};
\addplot[black, line width=5.5bp] table[x=t, y expr=\thisrow{p}*3.15+492] {\blacktail};

% ---- f > f_ac (baseline 349)
\addplot[cred, line width=2.8bp] coordinates {(0,349) (18.3,349)};
\addplot[cred, fill=cred, draw=none] table[x=t, y expr=\thisrow{p}*3.15+349] {\redcoreA};
\addplot[cred, spk] table[x=t, y expr=\thisrow{p}*3.15+349] {\redA};
\addplot[cred, fill=cred, draw=none] table[x=t, y expr=\thisrow{p}*3.15+349] {\redmid};
\addplot[cred, spk] table[x=t, y expr=\thisrow{p}*3.15+349] {\redSa};
\addplot[cred, fill=cred, draw=none] table[x=t, y expr=\thisrow{p}*3.15+349] {\redcoreB};
\addplot[cred, spk] table[x=t, y expr=\thisrow{p}*3.15+349] {\redB};
\addplot[cred, line width=4.5bp] coordinates {(53.9,349) (144.7,349)};

% ---- f_g < f < f_ac (baseline 206)
\addplot[cgreen, line width=2.2bp] coordinates {(0,206) (18.3,206)};
\addplot[cgreen, fill=cgreen, draw=none] table[x=t, y expr=\thisrow{p}*3.15+206] {\greencoreA};
\addplot[cgreen, spk] table[x=t, y expr=\thisrow{p}*3.15+206] {\greenA};
\addplot[cgreen, fill=cgreen, draw=none] table[x=t, y expr=\thisrow{p}*3.15+206] {\greenmidA};
\addplot[cgreen, spk] table[x=t, y expr=\thisrow{p}*3.15+206] {\greenSa};
\addplot[cgreen, fill=cgreen, draw=none] table[x=t, y expr=\thisrow{p}*3.15+206] {\greencoreB};
\addplot[cgreen, spk] table[x=t, y expr=\thisrow{p}*3.15+206] {\greenB};
\addplot[cgreen, fill=cgreen, draw=none] table[x=t, y expr=\thisrow{p}*3.15+206] {\greenmidB};
\addplot[cgreen, spk] table[x=t, y expr=\thisrow{p}*3.15+206] {\greenSb};
\addplot[cgreen, line width=4bp] coordinates {(78,206) (144.7,206)};

% ---- f < f_g, x10 (baseline 53)
\addplot[cblue, line width=1.3bp, smooth, tension=0.4] table[x=t, y expr=\thisrow{p}*31.5+53] {\bluedata};

% scale bars
\draw[black, line width=1.6bp] (axis cs:3.26,509) -- (axis cs:3.26,572);
\draw[black, line width=1.6bp] (axis cs:3.26,509) ++(-4.5bp,0) -- ++(9bp,0);
\draw[black, line width=1.6bp] (axis cs:3.26,572) ++(-4.5bp,0) -- ++(9bp,0);
\node[anchor=base west, font=\fs, inner sep=0] at (axis cs:4.1,532) {20};
\draw[cred, line width=1.6bp] (axis cs:3.26,365) -- (axis cs:3.26,427);
\draw[cred, line width=1.6bp] (axis cs:3.26,365) ++(-4.5bp,0) -- ++(9bp,0);
\draw[cred, line width=1.6bp] (axis cs:3.26,427) ++(-4.5bp,0) -- ++(9bp,0);
\node[anchor=base west, font=\fs, inner sep=0, text=cred] at (axis cs:4.2,387) {20};
\draw[cgreen, line width=1.6bp] (axis cs:3.26,221) -- (axis cs:3.26,283);
\draw[cgreen, line width=1.6bp] (axis cs:3.26,221) ++(-4.5bp,0) -- ++(9bp,0);
\draw[cgreen, line width=1.6bp] (axis cs:3.26,283) ++(-4.5bp,0) -- ++(9bp,0);
\node[anchor=base west, font=\fs, inner sep=0, text=cgreen] at (axis cs:4.2,243) {20};
\draw[cblue, line width=1.6bp] (axis cs:3.26,76) -- (axis cs:3.26,139);
\draw[cblue, line width=1.6bp] (axis cs:3.26,76) ++(-4.5bp,0) -- ++(9bp,0);
\draw[cblue, line width=1.6bp] (axis cs:3.26,139) ++(-4.5bp,0) -- ++(9bp,0);
\node[anchor=base west, font=\fs, inner sep=0, text=cblue] at (axis cs:4.3,100) {2};

% labels
\node[anchor=base west, font=\fs, inner sep=0] at (axis cs:61.6,557) {Original signal};
\node[anchor=base west, font=\fs, inner sep=0, text=cred] at (axis cs:61.7,412) {Filtered signal: f>\textit{f}\textsubscript{ac}};
\node[anchor=base west, font=\fs, inner sep=0, text=cgreen] at (axis cs:61.7,268) {Filtered signal: \textit{f}\textsubscript{g}<f<\textit{f}\textsubscript{ac}};
\node[anchor=base west, font=\fs, inner sep=0, text=cblue] at (axis cs:60.7,134) {Filtered signal × 10: f<\textit{f}\textsubscript{g}};
\node[anchor=base west, font=\fs, inner sep=0] at (axis cs:128.3,571) {PG B08};
\node[anchor=base, font=\fs, inner sep=0, text=black!85] at (axis cs:16.4,612) {\textit{M}\textsubscript{\textit{w}}9.0};
\node[anchor=base, font=\fs, inner sep=0, text=black!85] at (axis cs:45.6,612) {\textit{M}\textsubscript{\textit{w}}7.9};
\node[anchor=base, font=\fs, inner sep=0, rotate=90] at (axis cs:-0.96,296.5) {Pressure (kPa)};
\node[anchor=base, font=\fs, inner sep=0] at (axis cs:72.2,-56) {Time (UTC)};

% annotation
\draw[black!50, line width=5bp, dash pattern=on 7bp off 4.5bp] (axis cs:53.7,58.5) ellipse [x radius=257.5bp, y radius=37.5bp];
\draw[line width=3.5bp, -{Triangle[length=27bp,width=22bp]}] (axis cs:-5.91,106) .. controls (axis cs:6.15,150) and (axis cs:23.03,165) .. (axis cs:33.76,97);
\end{axis}
\end{tikzpicture}
\end{document}
